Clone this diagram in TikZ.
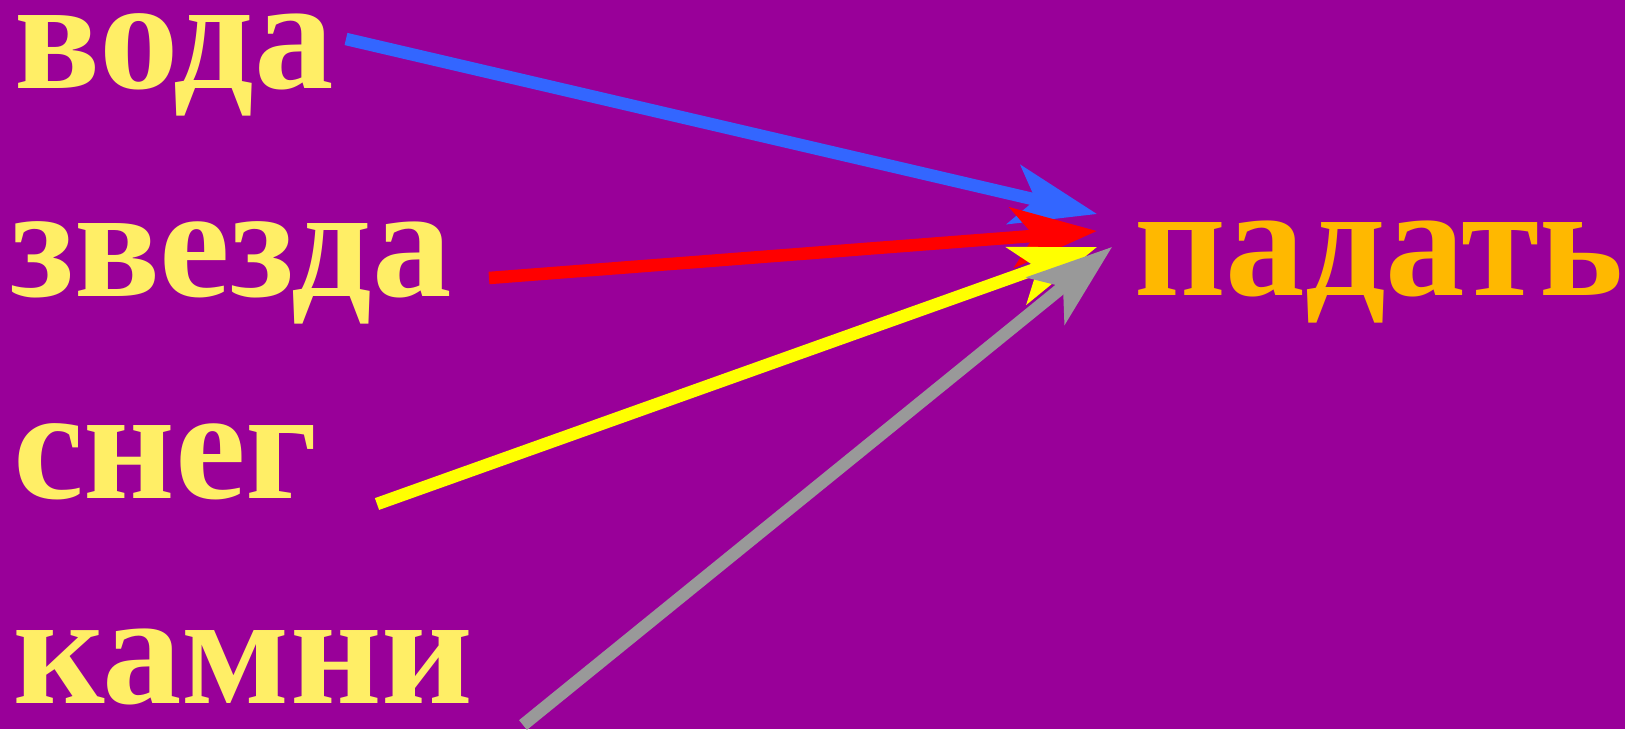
\documentclass[tikz,border=0pt]{standalone}
\usepackage{fontspec}
\setmainfont{Liberation Serif}
\usetikzlibrary{arrows.meta}
\definecolor{bgpurple}{RGB}{153,0,153}
\definecolor{wordyellow}{RGB}{255,238,102}
\definecolor{verborange}{RGB}{255,184,0}
\definecolor{arrblue}{RGB}{51,102,255}
\definecolor{arrred}{RGB}{255,0,0}
\definecolor{arryellow}{RGB}{255,255,0}
\definecolor{arrgray}{RGB}{153,153,153}
\begin{document}
\begin{tikzpicture}[x=1pt,y=-1pt,
  word/.style={anchor=base west,inner sep=0pt,font=\fontsize{159}{159}\selectfont\bfseries,text=wordyellow},
  verb/.style={word,text=verborange},
  link/.style={line width=12.5pt,-{Stealth[length=85pt,width=60pt,inset=22pt]}}]
\fill[bgpurple] (0,0) rectangle (1625,729);
\useasboundingbox (0,0) rectangle (1625,729);
\node[word] (voda) at (14,88) {вода};
\node[word] (zvezda) at (10,296) {звезда};
\node[word] (sneg) at (13,498) {снег};
\node[word] (kamni) at (13,703) {камни};
\node[verb] (padat) at (1134,295) {падать};
\coordinate (sv) at (346,39);
\coordinate (sz) at (489,278);
\coordinate (ss) at (377,504);
\coordinate (sk) at (523,725);
\coordinate (tv) at (1097,214);
\coordinate (tz) at (1097,231);
\coordinate (ts) at (1097,247);
\coordinate (tk) at (1112,247);
\draw[link,arrblue] (sv) -- (tv);
\draw[link,arrred] (sz) -- (tz);
\draw[link,arryellow] (ss) -- (ts);
\draw[link,arrgray] (sk) -- (tk);
\end{tikzpicture}
\end{document}
